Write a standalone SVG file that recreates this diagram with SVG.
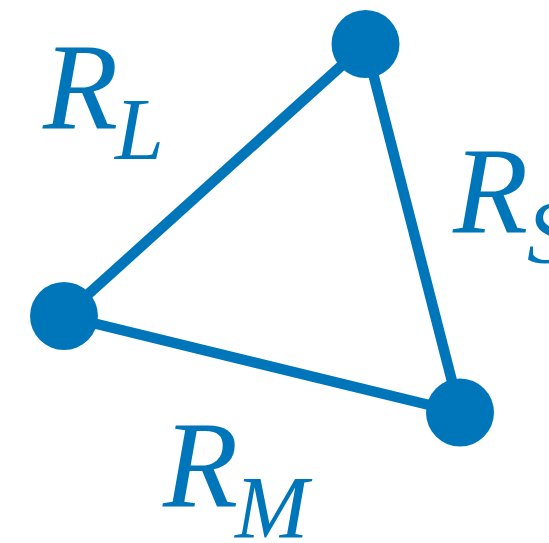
<svg xmlns="http://www.w3.org/2000/svg" width="549" height="543" viewBox="0 0 549 543">
  <style>
    .edge { stroke: #0076BA; stroke-width: 10.5; fill: none; }
    .node { fill: #0076BA; }
    .lbl { font-family: "Liberation Serif", "Times New Roman", serif; font-style: italic; fill: #0076BA; }
    .main { font-size: 123px; }
    .sub { font-size: 88px; }
  </style>
  <rect width="549" height="543" fill="#ffffff"/>
  <g id="connectors">
    <line class="edge" x1="365.5" y1="44" x2="64" y2="316"/>
    <line class="edge" x1="365.5" y1="44" x2="460" y2="412.5"/>
    <line class="edge" x1="64" y1="316" x2="460" y2="412.5"/>
  </g>
  <g id="node-top"><circle class="node" cx="365.5" cy="44" r="34"/></g>
  <g id="node-left"><circle class="node" cx="64" cy="316" r="34"/></g>
  <g id="node-right"><circle class="node" cx="460" cy="412.5" r="34"/></g>
  <g id="label-RL">
    <text class="lbl main" x="43" y="128">R</text>
    <text class="lbl sub" x="115" y="159">L</text>
  </g>
  <g id="label-RS">
    <text class="lbl main" x="453" y="232">R</text>
    <text class="lbl sub" x="527" y="262">S</text>
  </g>
  <g id="label-RM">
    <text class="lbl main" x="163" y="506">R</text>
    <text class="lbl sub" x="235" y="537">M</text>
  </g>
</svg>
